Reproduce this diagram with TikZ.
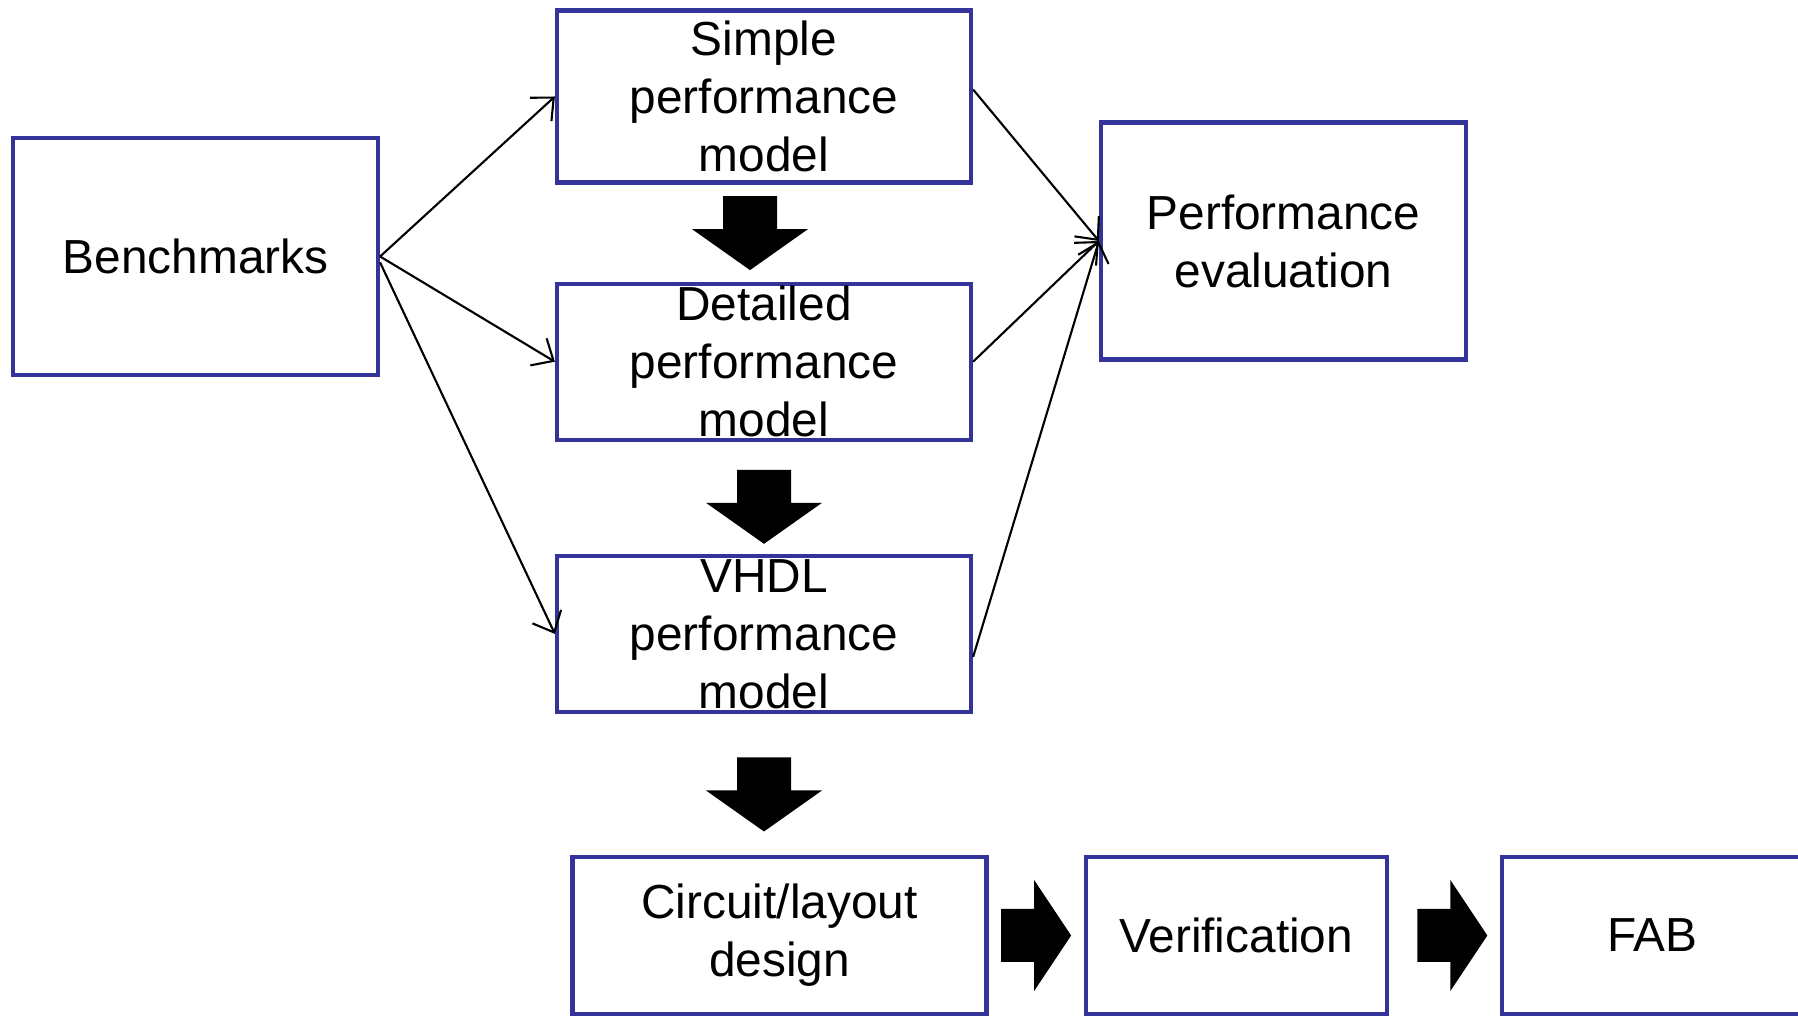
\documentclass[tikz,border=0pt]{standalone}
\usepackage{fontspec}
\setmainfont{Liberation Sans}
\usepackage{tikz}
\usetikzlibrary{arrows.meta,calc,positioning}
\definecolor{myblue}{RGB}{51,51,153}
\tikzstyle{block}=[draw=myblue,line width=1.2pt,rectangle,inner sep=0pt,align=center,font=\fontsize{13.6}{16.5}\selectfont]

\begin{document}
\begin{tikzpicture}[
  flow/.style={line width=0.6pt,-{Straight Barb[length=5pt,width=9pt]}},
  wide/.style={block,minimum width=36.5mm,minimum height=23.7mm},
  mid/.style={block,minimum width=41.4mm,minimum height=15.6mm},
  small/.style={block,minimum width=30.1mm,minimum height=15.7mm}
]
\useasboundingbox (0,0) rectangle (17.98,-10.17);

\node[wide] (bench) at (1.955,-2.565) {Benchmarks};
\node[mid,minimum height=17.2mm] (simple) at (7.64,-0.965) {Simple\\performance\\model};
\node[mid] [below=0.97cm of simple] (detailed) {Detailed\\performance\\model};
\node[mid] [below=1.12cm of detailed] (vhdl) {VHDL\\performance\\model};
\node[wide] (perfeval) at (12.835,-2.41) {Performance\\evaluation};

\node[mid,minimum height=15.7mm] (circuit) at (7.795,-9.355) {Circuit/layout\\design};
\node[small] [right=0.95cm of circuit] (verif) {Verification};
\node[small] [right=1.11cm of verif] (fab) {FAB};

% thin arrows
\draw[flow] (bench.east) -- (simple.west);
\draw[flow] (bench.east) -- (detailed.west);
\draw[flow] ([yshift=-0.6mm]bench.east) -- (vhdl.west);
\draw[flow] ([yshift=0.7mm]simple.east) -- (perfeval.west);
\draw[flow] (detailed.east) -- (perfeval.west);
\draw[flow] ([yshift=-2.3mm]vhdl.east) -- (perfeval.west);

% block arrows
\foreach \from/\to/\dx/\dy in {simple/detailed/-0.14/0,detailed/vhdl/0/-0.09,vhdl/circuit/0/-0.1}
  \fill ($(\from.south)!0.5!(\from.south |- \to.north)$) ++(\dx-0.27,\dy+0.37)
    -- ++(0.54,0) -- ++(0,-0.33) -- ++(0.31,0) -- ++(-0.58,-0.41)
    -- ++(-0.58,0.41) -- ++(0.31,0) -- cycle;
\foreach \from/\to/\dx in {circuit/verif/0,verif/fab/0.08}
  \fill ($(\from.east)!0.5!(\to.west)$) ++(\dx-0.35,0.265)
    -- ++(0.33,0) -- ++(0,0.29) -- ++(0.37,-0.555) -- ++(-0.37,-0.555)
    -- ++(0,0.29) -- ++(-0.33,0) -- cycle;

\end{tikzpicture}
\end{document}
